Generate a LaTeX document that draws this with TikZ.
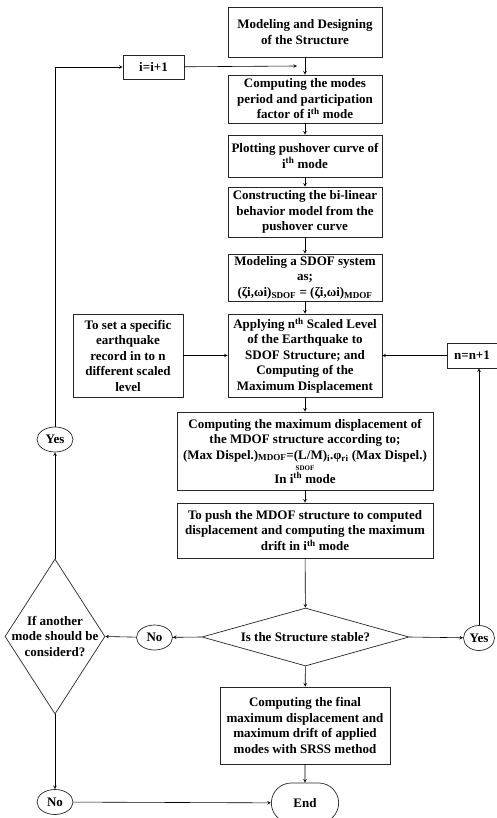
\documentclass[tikz,border=0pt]{standalone}
\usepackage{fontspec}
\setmainfont{Liberation Serif}
\usepackage{tikz}
\usetikzlibrary{shapes.geometric, shapes.misc, arrows}
\tikzstyle{process} = [rectangle, minimum width=154, draw=black!85, line width=0.7pt, align=center, inner sep=1pt, font=\bfseries\fontsize{13}{15.5}\selectfont]
\tikzstyle{decision} = [diamond, draw=black!85, line width=0.7pt, align=center, inner sep=0pt, font=\bfseries\fontsize{13}{15.5}\selectfont]
\tikzstyle{answer} = [ellipse, draw=black!85, line width=0.7pt, inner sep=0pt, minimum width=36, minimum height=25, font=\bfseries\fontsize{13}{15.5}\selectfont]
\tikzstyle{terminal} = [rounded rectangle, draw=black!85, line width=0.7pt, minimum width=74, minimum height=40, font=\bfseries\fontsize{13}{15.5}\selectfont]
\tikzstyle{arrow} = [line width=0.6pt, ->, >=stealth]
\newcommand{\ith}{i\textsuperscript{th}}

\begin{document}
\begin{tikzpicture}[x=1pt, y=-1pt]
            \useasboundingbox (0,0) rectangle (497,818);
            \clip (0,0) rectangle (497,818);
            \node[process, minimum height=50] (model) at (305,32) {Modeling and Designing\\of the Structure};
            \node[process, minimum height=48] (modes) at (305,99) {Computing the modes\\period and participation\\factor of \ith{} mode};
            \node[process, minimum height=42] (plot) at (305,156) {Plotting pushover curve of\\\ith{} mode};
            \node[process, minimum height=50] (bilin) at (305,212) {Constructing the bi-linear\\behavior model from the\\pushover curve};
            \node[process, minimum height=47] (sdof) at (305,277.5) {Modeling a SDOF system\\as;\\(ζi,ωi)\textsubscript{SDOF} = (ζi,ωi)\textsubscript{MDOF}};
            \node[process, minimum height=83] (apply) at (305,355.5) {Applying n\textsuperscript{th} Scaled Level\\of the Earthquake to\\SDOF Structure; and\\Computing of the\\Maximum Displacement};
            \node[process, minimum width=110, minimum height=83] (record) at (128,355.5) {To set a specific\\earthquake\\record in to n\\different scaled\\level};
            \node[process, minimum width=50, minimum height=25] (incn) at (472,355.5) {n=n+1};
            \node[process, minimum width=61, minimum height=24] (inci) at (153.5,67) {i=i+1};
            \node[process, minimum width=256, minimum height=78] (mdof) at (305,451) {Computing the maximum displacement of\\the MDOF structure according to;\\(Max Dispel.)\textsubscript{MDOF}=(L/M)\textsubscript{i}.φ\textsubscript{ri} (Max Dispel.)\\[-4pt]{\fontsize{7}{8}\selectfont SDOF}\\[-3pt]In \ith{} mode};
            \node[process, minimum width=256, minimum height=55] (push) at (305,530.5) {To push the MDOF structure to computed\\displacement and computing the maximum\\drift in \ith{} mode};
            \node[decision, aspect=3.6, minimum width=207, minimum height=58] (stable) at (305.5,637) {Is the Structure stable?};
            \node[answer] (nomid) at (154.5,637.5) {No};
            \node[answer, minimum width=31] (yesright) at (479,638) {Yes};
            \node[decision, minimum width=100, minimum height=155,
                  label={[align=center, font=\bfseries\fontsize{13}{15.5}\selectfont]center:If another\\mode should be\\considerd?}] (another) at (55,636.5) {};
            \node[answer] (yesleft) at (55,439.5) {Yes};
            \node[process, minimum width=170, minimum height=77] (final) at (305,725.5) {Computing the final\\maximum displacement and\\maximum drift of applied\\modes with SRSS method};
            \node[terminal] (end) at (305,803) {End};
            \node[answer] (nobottom) at (55,802) {No};
            \coordinate (join) at (297,66);

            \draw[arrow] (model) -- (modes);
            \draw[arrow] (modes) -- (plot);
            \draw[arrow] (plot) -- (bilin);
            \draw[arrow] (bilin) -- (sdof);
            \draw[arrow] (sdof) -- (apply);
            \draw[arrow] (record) -- (apply);
            \draw[arrow] (incn) -- (apply);
            \draw[arrow] (apply) -- (mdof);
            \draw[arrow] (mdof) -- (push);
            \draw[arrow] (push) -- (stable);
            \draw[arrow] (stable) -- (final);
            \draw[arrow] (final) -- (end);
            \draw[arrow] (stable.west) -- (nomid);
            \draw[arrow] (nomid) -- (another.east);
            \draw[arrow] (stable.east) -- (yesright);
            \draw[arrow] (yesright.north) -- (yesright.north |- incn.south);
            \draw[arrow] (another.north) -- (yesleft);
            \draw[arrow] (yesleft.north) |- (inci.west);
            \draw[arrow] (inci) -- (join);
            \draw[arrow] (another.south) -- (nobottom);
            \draw[arrow] (nobottom) -- (end);
            \end{tikzpicture}
\end{document}
